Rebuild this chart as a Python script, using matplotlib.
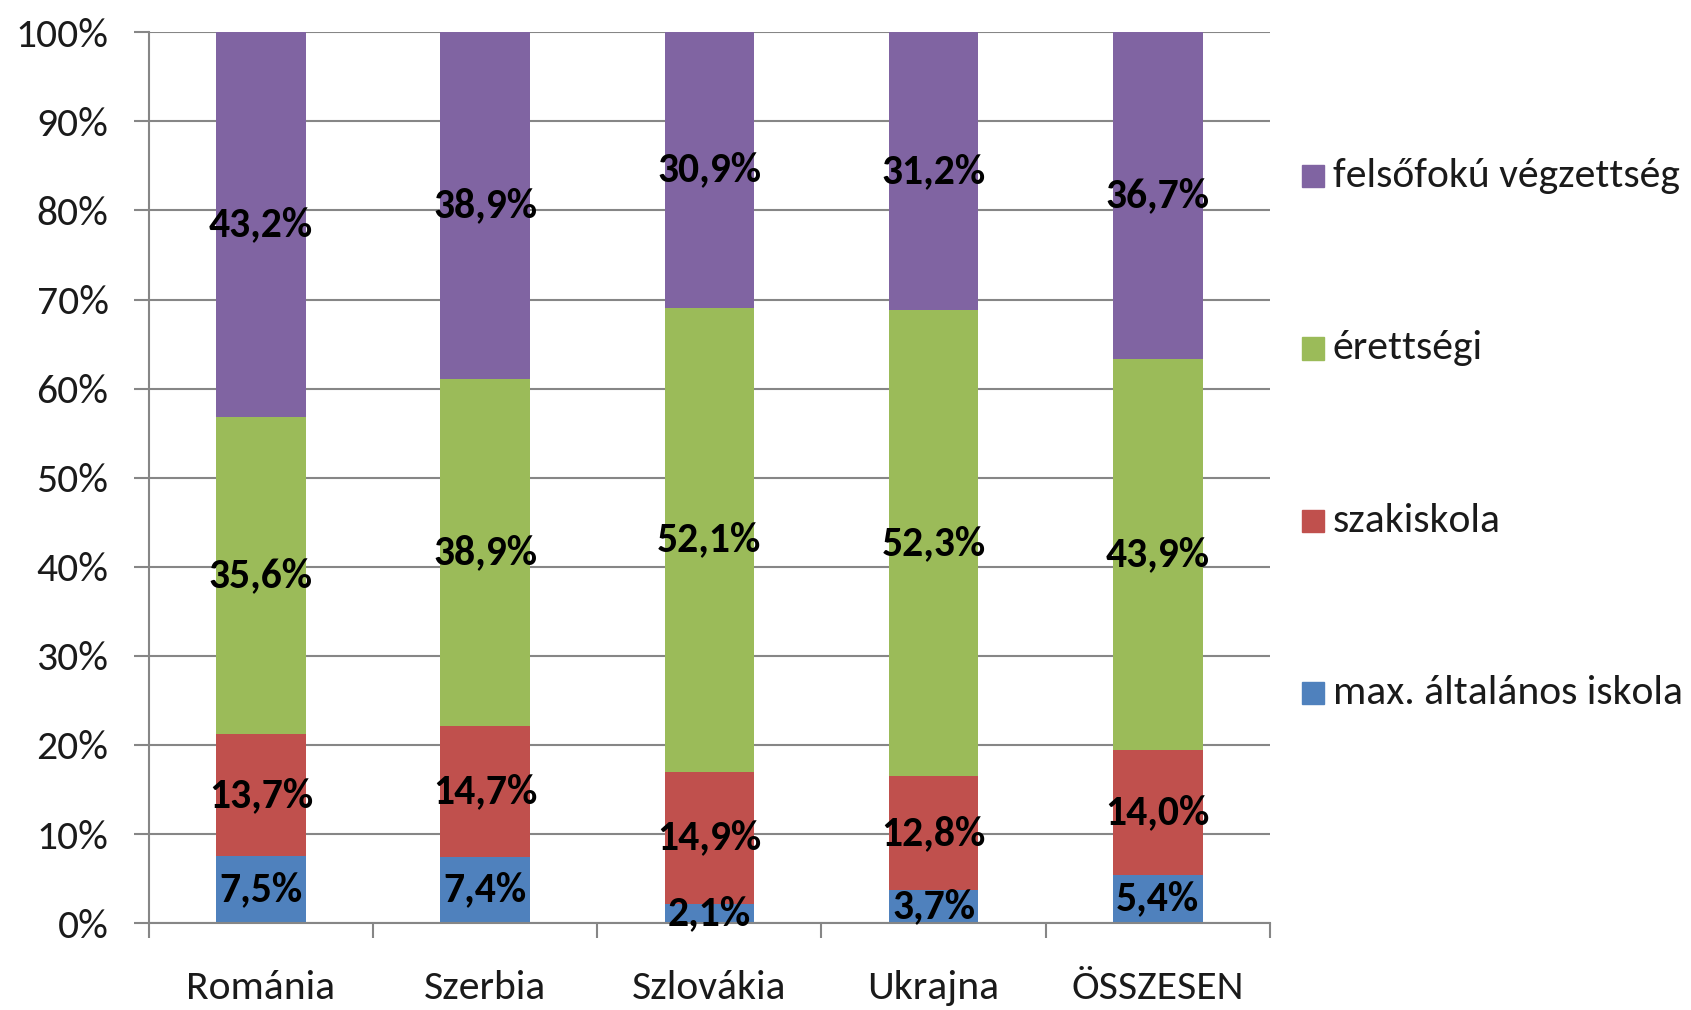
import numpy as np
import matplotlib
matplotlib.use("Agg")
import matplotlib.pyplot as plt
from matplotlib.patches import Rectangle

# ---------------- DATOS ----------------
orszagok = ["Románia", "Szerbia", "Szlovákia", "Ukrajna", "ÖSSZESEN"]
kategoriak = ["max. általános iskola", "szakiskola", "érettségi", "felsőfokú végzettség"]
alt_iskola = [7.5, 7.4, 2.1, 3.7, 5.4]
szakiskola = [13.7, 14.7, 14.9, 12.8, 14.0]
erettsegi = [35.6, 38.9, 52.1, 52.3, 43.9]
felsofoku = [43.2, 38.9, 30.9, 31.2, 36.7]
szinek = ["#4F81BD", "#C0504D", "#9BBB59", "#8064A2"]
y_ticks = [0, 10, 20, 30, 40, 50, 60, 70, 80, 90, 100]

plt.rcParams['font.family'] = ['Carlito', 'DejaVu Sans']
FS = 30
GRIS = "#868686"

sorozatok = np.array([alt_iskola, szakiskola, erettsegi, felsofoku])
osszeg = sorozatok.sum(axis=0)
arany = sorozatok / osszeg * 100   # 100%-os halmozott oszlop

fig = plt.figure(figsize=(16.91, 10.10), dpi=100)
ax = fig.add_axes([0.088, 0.086, 0.663, 0.882])

x = np.arange(len(orszagok))
alap = np.zeros(len(orszagok))
for i in range(len(kategoriak)):
    ax.bar(x, arany[i], 0.4, bottom=alap, color=szinek[i], zorder=2)
    for j in range(len(orszagok)):
        ertek = f"{sorozatok[i][j]:.1f}%".replace(".", ",")
        ax.text(x[j], alap[j] + arany[i][j] / 2, ertek, ha="center", va="center",
                fontsize=FS, fontweight="bold", color="black", zorder=3)
    alap += arany[i]

ax.set_xlim(-0.5, len(orszagok) - 0.5)
ax.set_ylim(0, 100)
ax.set_yticks(y_ticks)
ax.set_yticklabels([f"{v}%" for v in y_ticks], fontsize=FS, color="#1a1a1a")
ax.yaxis.grid(True, color=GRIS, linewidth=1.5, zorder=0)
ax.tick_params(axis="y", length=11, width=1.5, color=GRIS, pad=18)

# marcas entre categorias
ax.set_xticks(np.arange(-0.5, len(orszagok)), minor=True)
ax.set_xticks(x)
ax.set_xticklabels(orszagok, fontsize=FS, color="#1a1a1a")
ax.tick_params(axis="x", which="major", length=0, pad=34)
ax.tick_params(axis="x", which="minor", length=11, width=1.5, color=GRIS)

for s in ["top", "right"]:
    ax.spines[s].set_visible(False)
for s in ["left", "bottom"]:
    ax.spines[s].set_color(GRIS)
    ax.spines[s].set_linewidth(1.5)

# leyenda a mano (orden de arriba hacia abajo)
fila_y = [0.826, 0.655, 0.484, 0.314]
for k, i in enumerate(range(3, -1, -1)):
    fig.patches.append(Rectangle((0.770, fila_y[k] - 0.011), 0.0128, 0.022,
                                 transform=fig.transFigure, color=szinek[i]))
    fig.text(0.788, fila_y[k], kategoriak[i], fontsize=FS, color="#1a1a1a",
             va="center", ha="left")

fig.savefig("out.png", dpi=100)
